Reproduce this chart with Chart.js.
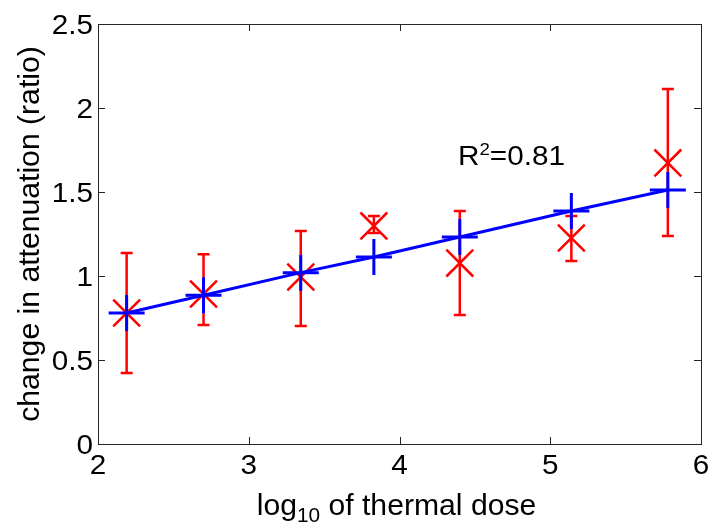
<!DOCTYPE html>
<html>
<head>
<meta charset="utf-8">
<script src="https://cdn.jsdelivr.net/npm/chart.js@4.4.1/dist/chart.umd.min.js"></script>
<style>
  html, body { margin: 0; padding: 0; background: #fff; }
  canvas { display: block; }
</style>
</head>
<body>
<canvas id="chart" width="712" height="529"></canvas>
<script>
// data
const doseLog = [2.19, 2.70, 3.345, 3.83, 4.40, 5.14, 5.78];
const attenMean = [0.78, 0.893, 0.994, 1.298, 1.077, 1.226, 1.673];
const attenLow = [0.423, 0.708, 0.702, 1.256, 0.768, 1.089, 1.238];
const attenHigh = [1.137, 1.13, 1.268, 1.357, 1.387, 1.357, 2.113];
const fitValues = [0.78, 0.885, 1.02, 1.113, 1.232, 1.387, 1.512];

const xTicks = [2, 3, 4, 5, 6];
const yTicks = [0, 0.5, 1, 1.5, 2, 2.5];
const xTickLabels = ["2", "3", "4", "5", "6"];
const yTickLabels = ["0", "0.5", "1", "1.5", "2", "2.5"];

const FONT = '"Liberation Sans", Arial, sans-serif';

// text is a bit wider than the font in the original, so stretch it
function drawText(ctx, str, x, y, size, align, sx) {
  ctx.save();
  ctx.font = size + "px " + FONT;
  const w = ctx.measureText(str).width * sx;
  let left = x;
  if (align === "right") left = x - w;
  if (align === "center") left = x - w / 2;
  ctx.translate(left, y);
  ctx.scale(sx, 1);
  ctx.textAlign = "left";
  ctx.textBaseline = "alphabetic";
  ctx.fillStyle = "#000";
  ctx.fillText(str, 0, 0);
  ctx.restore();
  return w;
}

function textWidth(ctx, str, size, sx) {
  ctx.save();
  ctx.font = size + "px " + FONT;
  const w = ctx.measureText(str).width * sx;
  ctx.restore();
  return w;
}

const errorBars = {
  id: "errorBars",
  beforeDatasetsDraw(chart) {
    const ctx = chart.ctx;
    const xs = chart.scales.x, ys = chart.scales.y;
    ctx.save();
    ctx.strokeStyle = "#ff0000";
    ctx.lineWidth = 2.5;
    doseLog.forEach((d, i) => {
      const px = xs.getPixelForValue(d);
      const top = ys.getPixelForValue(attenHigh[i]);
      const bot = ys.getPixelForValue(attenLow[i]);
      ctx.beginPath();
      ctx.moveTo(px, top); ctx.lineTo(px, bot);
      ctx.moveTo(px - 6, top); ctx.lineTo(px + 6, top);
      ctx.moveTo(px - 6, bot); ctx.lineTo(px + 6, bot);
      ctx.stroke();
    });
    ctx.restore();
  }
};

const axesBox = {
  id: "axesBox",
  afterDraw(chart) {
    const ctx = chart.ctx;
    const a = chart.chartArea;
    const xs = chart.scales.x, ys = chart.scales.y;
    ctx.save();
    ctx.strokeStyle = "#262626";
    ctx.lineWidth = 1;
    ctx.strokeRect(a.left + 0.5, a.top + 0.5, a.right - a.left, a.bottom - a.top);
    ctx.beginPath();
    xTicks.forEach(v => {
      const px = Math.round(xs.getPixelForValue(v)) + 0.5;
      ctx.moveTo(px, a.bottom); ctx.lineTo(px, a.bottom - 7);
      ctx.moveTo(px, a.top); ctx.lineTo(px, a.top + 7);
    });
    yTicks.forEach(v => {
      const py = Math.round(ys.getPixelForValue(v)) + 0.5;
      ctx.moveTo(a.left, py); ctx.lineTo(a.left + 7, py);
      ctx.moveTo(a.right, py); ctx.lineTo(a.right - 7, py);
    });
    ctx.stroke();
    ctx.restore();

    // tick labels
    xTicks.forEach((v, i) => {
      drawText(ctx, xTickLabels[i], xs.getPixelForValue(v), 474, 27, "center", 1.1);
    });
    yTicks.forEach((v, i) => {
      drawText(ctx, yTickLabels[i], 93, ys.getPixelForValue(v) + 9.5, 27, "right", 1.1);
    });

    // x axis title with subscript
    const s1 = "log", s2 = "10", s3 = " of thermal dose";
    const w1 = textWidth(ctx, s1, 29, 1.04);
    const w2 = textWidth(ctx, s2, 20, 1.04);
    const w3 = textWidth(ctx, s3, 29, 1.04);
    let x0 = (a.left + a.right) / 2 - 3 - (w1 + w2 + w3) / 2;
    x0 += drawText(ctx, s1, x0, 515, 29, "left", 1.04);
    x0 += drawText(ctx, s2, x0, 522, 20, "left", 1.04);
    drawText(ctx, s3, x0, 515, 29, "left", 1.04);

    // y axis title
    ctx.save();
    ctx.translate(39, (a.top + a.bottom) / 2);
    ctx.rotate(-Math.PI / 2);
    drawText(ctx, "change in attenuation (ratio)", 0, 0, 29, "center", 1.04);
    ctx.restore();

    // R^2 annotation
    let rx = 458;
    rx += drawText(ctx, "R", rx, 165, 27, "left", 1.1);
    rx += drawText(ctx, "2", rx, 155, 17, "left", 1.1);
    drawText(ctx, "=0.81", rx, 165, 27, "left", 1.1);
  }
};

const ctx = document.getElementById("chart").getContext("2d");
new Chart(ctx, {
  type: "scatter",
  data: {
    datasets: [
      {
        label: "fit",
        data: doseLog.map((d, i) => ({ x: d, y: fitValues[i] })),
        showLine: true,
        borderColor: "#0000ff",
        backgroundColor: "#0000ff",
        borderWidth: 3,
        pointStyle: "cross",
        pointRadius: 18,
        pointBorderWidth: 3,
        pointHoverRadius: 18
      },
      {
        label: "measured",
        data: doseLog.map((d, i) => ({ x: d, y: attenMean[i] })),
        showLine: false,
        borderColor: "#ff0000",
        backgroundColor: "#ff0000",
        pointStyle: "crossRot",
        pointRadius: 19,
        pointBorderWidth: 2.5,
        pointHoverRadius: 19
      }
    ]
  },
  options: {
    responsive: false,
    animation: false,
    events: [],
    layout: { autoPadding: false, padding: { left: 0, top: 24, right: 11, bottom: 0 } },
    plugins: { legend: { display: false }, tooltip: { enabled: false } },
    scales: {
      x: {
        type: "linear",
        min: 2, max: 6,
        ticks: { display: false },
        grid: { display: false },
        border: { display: false },
        afterBuildTicks(scale) { scale.ticks = xTicks.map(v => ({ value: v })); },
        afterFit(scale) { scale.height = 85; }
      },
      y: {
        type: "linear",
        min: 0, max: 2.5,
        ticks: { display: false },
        grid: { display: false },
        border: { display: false },
        afterBuildTicks(scale) { scale.ticks = yTicks.map(v => ({ value: v })); },
        afterFit(scale) { scale.width = 98; }
      }
    }
  },
  plugins: [errorBars, axesBox]
});
</script>
</body>
</html>
